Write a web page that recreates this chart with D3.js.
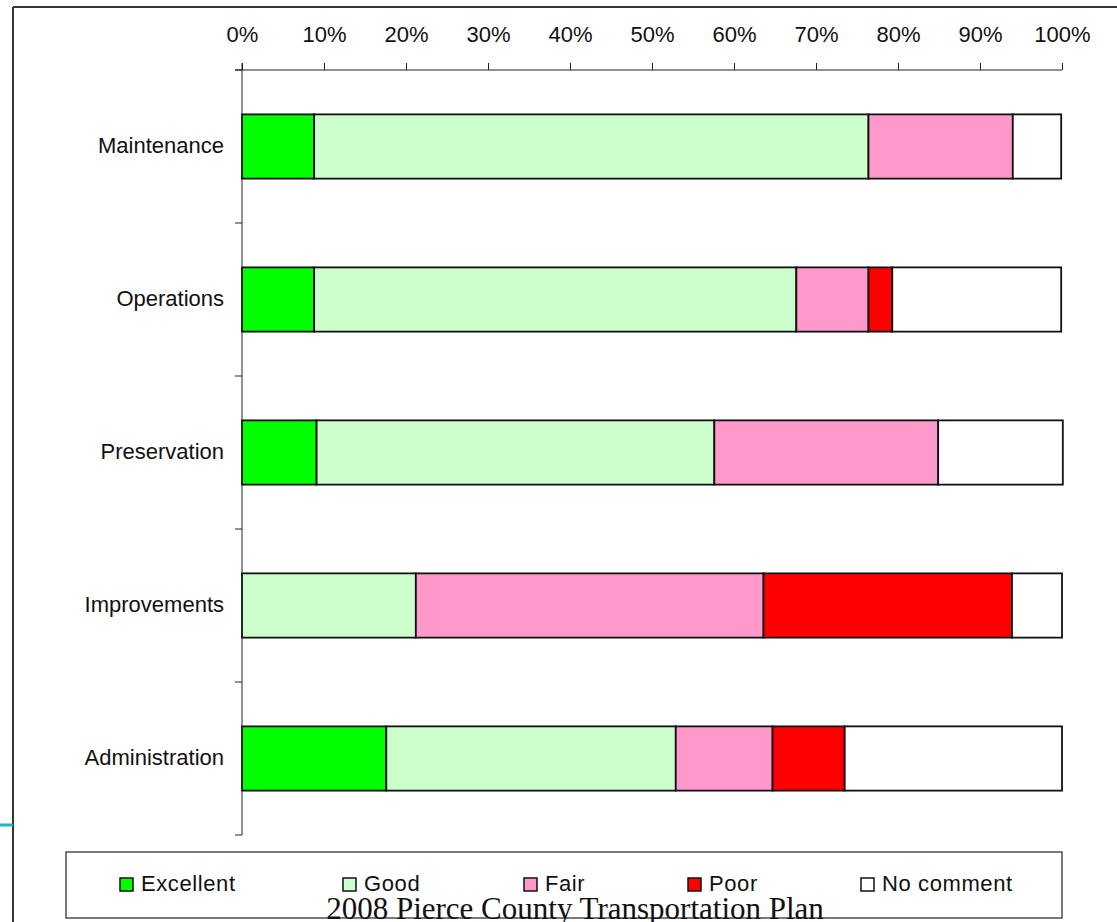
<!DOCTYPE html>
<html>
<head>
<meta charset="utf-8">
<script src="https://cdn.jsdelivr.net/npm/d3@7"></script>
<style>
  html, body { margin: 0; padding: 0; background: #fff; overflow: hidden; }
  svg { display: block; }
</style>
</head>
<body>
<svg id="chart" width="1117" height="922"></svg>
<script>
// ---- data (percent of respondents) ----
const categories = ["Maintenance", "Operations", "Preservation", "Improvements", "Administration"];
const seriesNames = ["Excellent", "Good", "Fair", "Poor", "No comment"];
const excellent = [8.8, 8.8, 9.1, 0.0, 17.6];
const good      = [67.6, 58.8, 48.5, 21.2, 35.3];
const fair      = [17.6, 8.8, 27.3, 42.4, 11.8];
const poor      = [0.0, 2.9, 0.0, 30.3, 8.8];
const noComment = [5.9, 20.6, 15.2, 6.1, 26.5];
const seriesColors = ["#00FF00", "#CCFFCC", "#FF99CC", "#FF0000", "#FFFFFF"];
const tickValues = [0, 10, 20, 30, 40, 50, 60, 70, 80, 90, 100];
const tickLabels = ["0%", "10%", "20%", "30%", "40%", "50%", "60%", "70%", "80%", "90%", "100%"];
const footerText = "2008 Pierce County Transportation Plan";

const svg = d3.select("#chart");
const FONT = "'Liberation Sans', Arial, sans-serif";

// page frame
svg.append("line").attr("x1", 13).attr("y1", 7).attr("x2", 1117).attr("y2", 7)
  .attr("stroke", "#333").attr("stroke-width", 2);
svg.append("line").attr("x1", 13).attr("y1", 7).attr("x2", 13).attr("y2", 922)
  .attr("stroke", "#333").attr("stroke-width", 2);
svg.append("line").attr("x1", 0).attr("y1", 825).attr("x2", 13).attr("y2", 825)
  .attr("stroke", "#1BB8C8").attr("stroke-width", 3);

// scales
const x = d3.scaleLinear().domain([0, 100]).range([242, 1062]);
const y = d3.scaleBand().domain(categories).range([70, 835]).paddingInner(0.58).paddingOuter(0.29);

// stacked data
const rows = categories.map((c, i) => ({
  cat: c,
  "Excellent": excellent[i], "Good": good[i], "Fair": fair[i], "Poor": poor[i], "No comment": noComment[i]
}));
const stack = d3.stack().keys(seriesNames)(rows);
const color = d3.scaleOrdinal().domain(seriesNames).range(seriesColors);

const g = svg.append("g");
stack.forEach(layer => {
  g.selectAll(null).data(layer.filter(d => d[1] - d[0] > 0)).enter().append("rect")
    .attr("x", d => x(d[0]))
    .attr("y", d => y(d.data.cat))
    .attr("width", d => x(d[1]) - x(d[0]))
    .attr("height", y.bandwidth())
    .attr("fill", color(layer.key))
    .attr("stroke", "#111")
    .attr("stroke-width", 1.8);
});

// top axis
const xAxis = d3.axisTop(x).tickValues(tickValues).tickFormat((d, i) => tickLabels[i])
  .tickSize(7).tickSizeOuter(0).tickPadding(21);
const gx = svg.append("g").attr("transform", "translate(0,70)").call(xAxis);
gx.select(".domain").attr("stroke", "#222").attr("d", "M235,0H1062");
gx.selectAll(".tick line").attr("stroke", "#222");
gx.selectAll(".tick text").attr("font-family", FONT).attr("font-size", 22).attr("fill", "#111");

// left axis: line + boundary ticks
const yAxisG = svg.append("g");
yAxisG.append("line").attr("x1", 242).attr("x2", 242).attr("y1", 63).attr("y2", 835)
  .attr("stroke", "#222");
const boundaries = categories.map(c => y(c) - y.step() * y.paddingOuter()).concat([835]);
yAxisG.selectAll(null).data(boundaries).enter().append("line")
  .attr("x1", 235).attr("x2", 242).attr("y1", d => d).attr("y2", d => d).attr("stroke", "#222");
yAxisG.selectAll(null).data(categories).enter().append("text")
  .attr("x", 224).attr("y", d => y(d) + y.bandwidth() / 2)
  .attr("dy", "0.3em")
  .attr("text-anchor", "end")
  .attr("font-family", FONT).attr("font-size", 22).attr("fill", "#111")
  .text(d => d);

// legend
svg.append("rect").attr("x", 66).attr("y", 852).attr("width", 996).attr("height", 66)
  .attr("fill", "none").attr("stroke", "#222").attr("stroke-width", 1.2);
const legendX = [120, 343, 524, 688, 861];
const lg = svg.append("g").selectAll(null).data(seriesNames).enter().append("g")
  .attr("transform", (d, i) => `translate(${legendX[i]},878)`);
lg.append("rect").attr("width", 13).attr("height", 13)
  .attr("fill", d => color(d)).attr("stroke", "#111").attr("stroke-width", 1.5);
lg.append("text").attr("x", 21).attr("y", 13)
  .attr("font-family", FONT).attr("font-size", 22).attr("letter-spacing", 0.6).attr("fill", "#111")
  .text(d => d);

// footer
svg.append("text").attr("x", 575).attr("y", 919).attr("text-anchor", "middle")
  .attr("font-family", "'Liberation Serif', 'Times New Roman', serif").attr("font-size", 31)
  .attr("fill", "#111").text(footerText);
</script>
</body>
</html>
